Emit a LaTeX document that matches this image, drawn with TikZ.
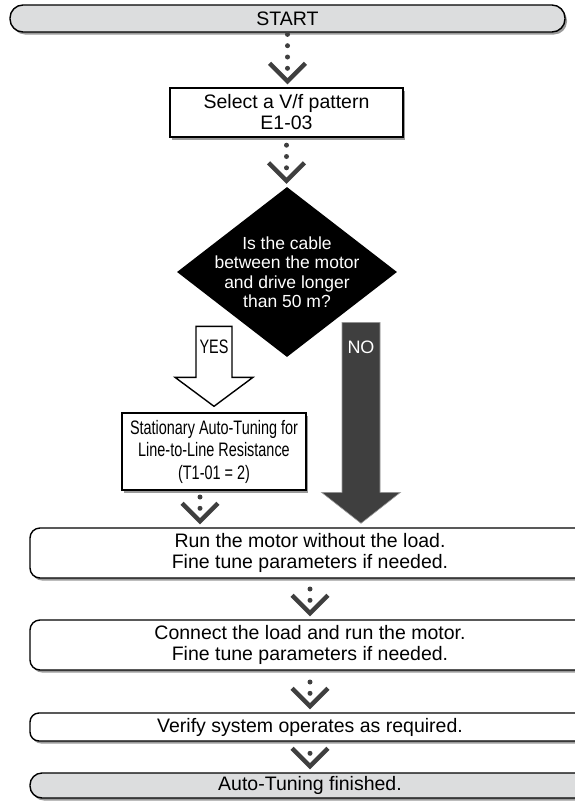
\documentclass[tikz,border=0pt]{standalone}
\usepackage{fontspec}
\setmainfont{Liberation Sans}
\newfontfamily\narrowfont[FakeStretch=0.74]{Liberation Sans}
\usetikzlibrary{shapes.geometric,shadows}

\definecolor{termgray}{HTML}{DCDDDE}
\definecolor{chevgray}{HTML}{3F3F3F}
\definecolor{shadegray}{HTML}{9A9A9A}

\begin{document}
\begin{tikzpicture}[x=1pt,y=-1pt,
  box/.style={draw=black, line width=1.4pt, fill=white, inner sep=0pt, align=center,
    font=\fontsize{19.5}{21}\selectfont,
    drop shadow={shadow xshift=2pt, shadow yshift=-2.5pt, fill=shadegray, opacity=1}},
  terminal/.style={box, fill=termgray, rounded corners=12pt},
  process/.style={box, rounded corners=10pt},
  plainbox/.style={box},
  decision/.style={diamond, fill=black, inner sep=0pt, minimum width=220pt, minimum height=170pt},
  asktext/.style={text=white, align=center, font=\fontsize{17.5}{19.5}\selectfont},
  narrowtext/.style={font=\narrowfont\fontsize{19.5}{22.5}\selectfont},
  dotline/.style={chevgray, line width=5pt, line cap=round, dash pattern=on 0pt off 11.3pt, shorten >=1.5pt},
  chevron/.style={chevgray, line width=4.5pt},
  hollow/.style={draw=black, line width=1.4pt, fill=white},
  solidarrow/.style={draw=shadegray, line width=0.6pt, fill=chevgray}
]
  \useasboundingbox (0,0) rectangle (574,801);

  % steps
  \node[terminal, minimum width=555pt, minimum height=27pt, rounded corners=13pt] (start) at (287.5,18.5) {START};
  \node[plainbox, minimum width=233pt, minimum height=49pt] (select) at (286.5,112.5) {Select a V/f pattern\\E1-03};
  \node[decision] (ask) at (287,272) {};
  \node[asktext] (asktxt) at (ask.center) {Is the cable\\between the motor\\and drive longer\\than 50 m?};
  \node[plainbox, narrowtext, minimum width=184pt, minimum height=77pt] (stat) at (214,451.5) {Stationary Auto-Tuning for\\Line-to-Line Resistance\\(T1-01 = 2)};
  \node[process, minimum width=560pt, minimum height=50pt] (run) at (310,553) {Run the motor without the load.\\Fine tune parameters if needed.};
  \node[process, minimum width=560pt, minimum height=50pt] (connect) at (310,645) {Connect the load and run the motor.\\Fine tune parameters if needed.};
  \node[process, minimum width=560pt, minimum height=28pt, rounded corners=9pt] (verify) at (310,727) {Verify system operates as required.};
  \node[terminal, minimum width=560pt, minimum height=25pt] (auto) at (310,785.5) {Auto-Tuning finished.};

  % dotted links with chevrons
  \coordinate (statout) at ([xshift=-14pt]stat.south);
  \foreach \a/\b in {start.south/select.north, select.south/ask.north, statout/run.north,
                     run.south/connect.north, connect.south/verify.north, verify.south/auto.north} {
    \draw[dotline] ([yshift=19pt]\a |- \b) -- (\a);
    \draw[chevron] ([shift={(-18,-24)}]\a |- \b) -- ([yshift=6pt]\a |- \b) -- ([shift={(18,-24)}]\a |- \b);
  }

  % yes branch
  \coordinate (yestip) at ([yshift=6pt]stat.north);
  \draw[hollow] (yestip) -- ++(-39,-29) -- ++(21,0) -- ++(0,-51) -- ++(36,0) -- ++(0,51) -- ++(21,0) -- cycle;
  \node[narrowtext] (yes) at ([yshift=60pt]yestip) {YES};

  % no branch
  \coordinate (notip) at ([xshift=51pt,yshift=4pt]run.north);
  \draw[solidarrow] (notip) -- ++(-39.5,-31) -- ++(20.5,0) -- ++(0,-170) -- ++(38,0) -- ++(0,170) -- ++(20.5,0) -- cycle;
  \node[text=white, font=\fontsize{18}{20}\selectfont] (no) at ([yshift=176pt]notip) {NO};
\end{tikzpicture}
\end{document}
